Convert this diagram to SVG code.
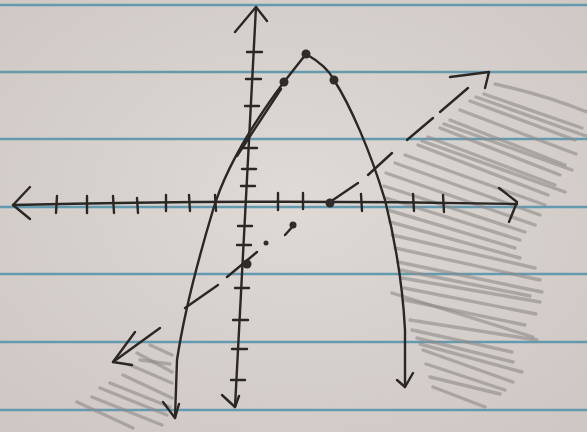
<svg xmlns="http://www.w3.org/2000/svg" width="587" height="432" viewBox="0 0 587 432">
<style>
.pen{stroke:#2a2725;stroke-width:2.4;fill:none;stroke-linecap:round;stroke-linejoin:round}
.rule{stroke:#6499ae;stroke-width:2.6}
.shade{stroke:#8e8b89;stroke-width:3.4;stroke-linecap:round;opacity:.6}
.dot{fill:#2f2c2a}
</style>
<defs>
<radialGradient id="paper" cx="50%" cy="45%" r="70%">
<stop offset="0" stop-color="#dfdad6"/>
<stop offset="1" stop-color="#cec7c3"/>
</radialGradient>
</defs>
<rect width="587" height="432" fill="url(#paper)"/>
<g id="rules">
<line class="rule" x1="0" y1="5" x2="587" y2="5"/>
<line class="rule" x1="0" y1="72" x2="587" y2="72"/>
<line class="rule" x1="0" y1="139" x2="587" y2="139"/>
<line class="rule" x1="0" y1="207" x2="587" y2="207"/>
<line class="rule" x1="0" y1="274" x2="587" y2="274"/>
<line class="rule" x1="0" y1="342" x2="587" y2="342"/>
<line class="rule" x1="0" y1="410" x2="587" y2="410"/>
</g>
<g id="shading-right">
<path class="shade" fill="none" d="M495,84 Q545,95 587,112"/>
<line class="shade" x1="484" y1="94" x2="582" y2="128"/>
<line class="shade" x1="476" y1="97" x2="586" y2="136"/>
<line class="shade" x1="470" y1="101" x2="575" y2="140"/>
<line class="shade" x1="460" y1="110" x2="576" y2="154"/>
<line class="shade" x1="450" y1="120" x2="565" y2="165"/>
<line class="shade" x1="444" y1="124" x2="572" y2="170"/>
<line class="shade" x1="440" y1="128" x2="560" y2="175"/>
<line class="shade" x1="428" y1="137" x2="555" y2="185"/>
<line class="shade" x1="422" y1="141" x2="565" y2="192"/>
<line class="shade" x1="418" y1="145" x2="548" y2="195"/>
<line class="shade" x1="405" y1="155" x2="545" y2="205"/>
<line class="shade" x1="395" y1="163" x2="540" y2="215"/>
<line class="shade" x1="386" y1="173" x2="535" y2="225"/>
<line class="shade" x1="384" y1="186" x2="525" y2="232"/>
<line class="shade" x1="386" y1="198" x2="520" y2="240"/>
<line class="shade" x1="388" y1="210" x2="515" y2="248"/>
<line class="shade" x1="390" y1="222" x2="520" y2="258"/>
<line class="shade" x1="392" y1="235" x2="535" y2="268"/>
<line class="shade" x1="395" y1="248" x2="540" y2="280"/>
<line class="shade" x1="398" y1="262" x2="542" y2="292"/>
<line class="shade" x1="400" y1="270" x2="530" y2="296"/>
<line class="shade" x1="392" y1="293" x2="533" y2="337"/>
<line class="shade" x1="402" y1="278" x2="540" y2="302"/>
<line class="shade" x1="404" y1="288" x2="536" y2="314"/>
<line class="shade" x1="405" y1="300" x2="525" y2="325"/>
<line class="shade" x1="410" y1="320" x2="537" y2="340"/>
<line class="shade" x1="412" y1="330" x2="512" y2="352"/>
<line class="shade" x1="417" y1="338" x2="513" y2="362"/>
<line class="shade" x1="420" y1="344" x2="522" y2="372"/>
<line class="shade" x1="423" y1="350" x2="513" y2="382"/>
<line class="shade" x1="426" y1="364" x2="505" y2="390"/>
<line class="shade" x1="430" y1="377" x2="500" y2="394"/>
<line class="shade" x1="433" y1="387" x2="485" y2="407"/>
</g>
<g id="shading-left">
<line class="shade" x1="150" y1="345" x2="172" y2="355"/>
<line class="shade" x1="137" y1="353" x2="172" y2="372"/>
<line class="shade" x1="140" y1="360" x2="170" y2="364"/>
<line class="shade" x1="130" y1="365" x2="172" y2="383"/>
<line class="shade" x1="123" y1="375" x2="172" y2="398"/>
<line class="shade" x1="110" y1="383" x2="170" y2="407"/>
<line class="shade" x1="100" y1="388" x2="167" y2="415"/>
<line class="shade" x1="92" y1="397" x2="162" y2="425"/>
<line class="shade" x1="77" y1="402" x2="133" y2="428"/>
</g>
<g id="x-axis">
<path class="pen" d="M13,205 Q260,199 517,204"/>
<path class="pen" d="M30,187 L13,205 L30,219"/>
<path class="pen" d="M499,188 L517,202 L509,222"/>
<path class="pen" d="M57,196 L56,213 M87,196 L87,213 M113,196 L114,213 M137,198 L138,213 M166,195 L166,211 M189,195 L190,211 M215,195 L216,211 M278,193 L278,210 M303,193 L303,209 M361,194 L362,211 M413,194 L414,211 M443,195 L444,212"/>
</g>
<g id="y-axis">
<path class="pen" d="M256,7 L235,407"/>
<path class="pen" d="M235,32 L256,7 L267,21"/>
<path class="pen" d="M222,395 L235,407 L239,396"/>
<path class="pen" d="M247,52 L262,52 M246,79 L261,79 M245,106 L259,106 M243,148 L257,148 M242,169 L256,169 M241,186 L255,186 M238,226 L252,226 M237,245 L251,245 M235,288 L249,288 M233,320 L248,320 M232,349 L247,349 M231,380 L245,380"/>
</g>
<g id="parabola">
<path class="pen" d="M306,54 L284,82 C266,106 228,160 213,210 C198,260 183,320 177,360 L175,418"/>
<path class="pen" d="M281,89 L237,156"/>
<path class="pen" d="M163,402 L175,418 L179,404"/>
<path class="pen" d="M306,54 C320,62 330,72 334,80 C350,105 370,150 385,200 C395,240 403,290 405,330 L405,387"/>
<path class="pen" d="M397,380 L405,387 L413,373"/>
<circle class="dot" cx="306" cy="54" r="4.5"/>
<circle class="dot" cx="284" cy="82" r="4.5"/>
<circle class="dot" cx="334" cy="80" r="4.5"/>
</g>
<g id="line">
<path class="pen" d="M113,362 L160,328"/>
<path class="pen" d="M135,332 L113,362 L132,365"/>
<path class="pen" d="M185,308 L218,285"/>
<path class="pen" d="M227,277 L257,252"/>
<path class="pen" d="M285,235 L294,225"/>
<path class="pen" d="M330,202 L358,183"/>
<path class="pen" d="M368,175 L392,153"/>
<path class="pen" d="M407,140 L433,118"/>
<path class="pen" d="M440,112 L468,88"/>
<path class="pen" d="M450,77 L489,72 L485,88"/>
<circle class="dot" cx="247" cy="264" r="4.5"/>
<circle class="dot" cx="266" cy="243" r="2.5"/>
<circle class="dot" cx="293" cy="225" r="3.5"/>
<circle class="dot" cx="330" cy="203" r="4.5"/>
</g>
</svg>
